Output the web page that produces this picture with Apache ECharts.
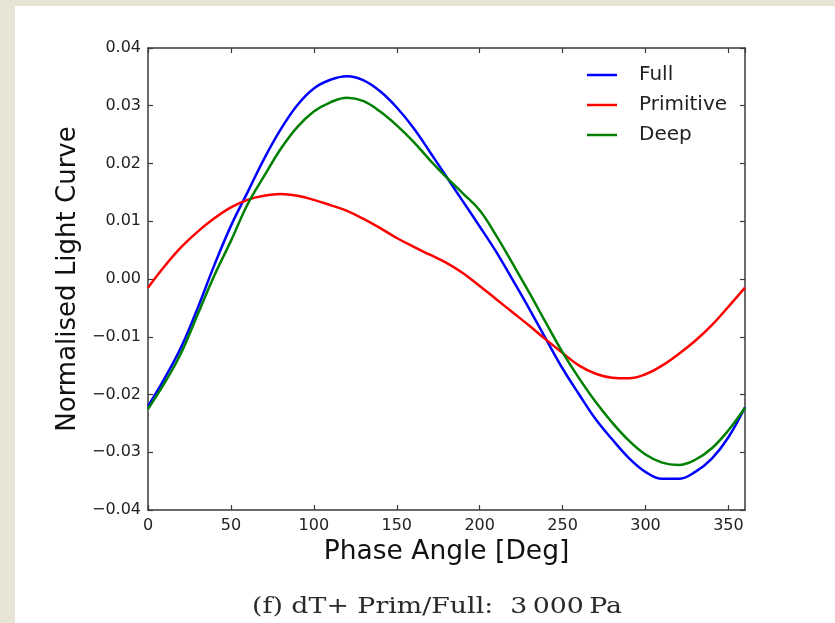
<!DOCTYPE html>
<html><head><meta charset="utf-8">
<script src="https://cdn.jsdelivr.net/npm/echarts@6/dist/echarts.min.js"></script>
<style>
html,body{margin:0;padding:0;background:#e8e5d6;overflow:hidden;}
#panel{position:absolute;left:15px;top:6px;width:820px;height:617px;background:#fff;}
#chart{position:absolute;left:0;top:0;width:835px;height:623px;}
</style></head><body><div id="panel"></div><div id="chart"></div>
<script>
// Phase angle in degrees
const phase = [0,10,20,30,40,50,60,70,80,90,100,110,120,130,140,150,160,170,180,
  190,200,210,220,230,240,250,260,270,280,290,300,310,320,330,340,350,360];
const full = [-0.0220,-0.0172,-0.0118,-0.0050,0.0024,0.0092,0.0150,0.0208,0.0259,0.0301,
  0.0330,0.0345,0.0351,0.0344,0.0325,0.0297,0.0262,0.0220,0.0177,
  0.0134,0.0091,0.0047,-0.0002,-0.0052,-0.0104,-0.0155,-0.0200,-0.0243,-0.0278,
  -0.0310,-0.0334,-0.0346,-0.0346,-0.0334,-0.0311,-0.0274,-0.0222];
const primitive = [-0.0015,0.0022,0.0055,0.0082,0.0105,0.0124,0.0137,0.0144,0.0147,0.0144,
  0.0137,0.0128,0.0118,0.0104,0.0088,0.0071,0.0056,0.0042,0.0028,
  0.0010,-0.0012,-0.0035,-0.0058,-0.0081,-0.0105,-0.0128,-0.0150,-0.0164,-0.0171,
  -0.0172,-0.0165,-0.0150,-0.0130,-0.0107,-0.0080,-0.0048,-0.0015];
const deep = [-0.0225,-0.0180,-0.0128,-0.0061,0.0006,0.0066,0.0129,0.0178,0.0225,0.0263,
  0.0290,0.0306,0.0314,0.0308,0.0290,0.0266,0.0238,0.0206,0.0176,
  0.0148,0.0119,0.0075,0.0026,-0.0024,-0.0076,-0.0127,-0.0172,-0.0213,-0.0249,
  -0.0280,-0.0304,-0.0318,-0.0322,-0.0313,-0.0293,-0.0262,-0.0223];
const seriesNames = ['Full','Primitive','Deep'];
const seriesColors = ['#0000ff','#ff0000','#008000'];
const xRange = [0, 360, 50];
const yRange = [-0.04, 0.04, 0.01];
const xTitle = 'Phase Angle [Deg]';
const yTitle = 'Normalised Light Curve';
const caption = '(f) dT+ Prim/Full:  3\u2009000\u2009Pa';

const chart = echarts.init(document.getElementById('chart'), null, {renderer:'canvas'});
const axisColor = '#3a3a3a';
const tickFont = {fontFamily:'DejaVu Sans', fontSize:16, color:'#222'};
function mk(data){ return phase.map((p,i)=>[p,data[i]]); }
const baseX = {type:'value', min:xRange[0], max:xRange[1], interval:xRange[2],
  axisLine:{show:true,onZero:false,lineStyle:{color:axisColor,width:1.5}},
  axisTick:{show:true,inside:true,length:5,lineStyle:{color:axisColor,width:1.2}},
  splitLine:{show:false}};
const baseY = {type:'value', min:yRange[0], max:yRange[1], interval:yRange[2],
  axisLine:{show:true,onZero:false,lineStyle:{color:axisColor,width:1.5}},
  axisTick:{show:true,inside:true,length:5,lineStyle:{color:axisColor,width:1.2}},
  splitLine:{show:false}};

// caption width fit (reference caption spans ~370px)
const capFont = '22px "DejaVu Serif"';
const cv = document.createElement('canvas').getContext('2d');
cv.font = capFont;
const capW = cv.measureText(caption).width || 300;
const capScale = Math.min(1.4, Math.max(0.8, 370 / capW));

const option = {
  backgroundColor:'transparent',
  animation:false,
  grid:{left:148, top:48, right:90, bottom:113, containLabel:false},
  legend:{data:seriesNames, orient:'vertical', left:582, top:60,
    icon:'path://M0,0H30V2.5H0Z',
    itemWidth:30, itemHeight:2.5, itemGap:10,
    textStyle:{fontFamily:'DejaVu Sans', fontSize:20, color:'#222', lineHeight:20, padding:[0,0,0,17]}},
  xAxis:[
    Object.assign({}, baseX, {position:'bottom', name:xTitle, nameLocation:'middle', nameGap:27,
      nameTextStyle:{fontFamily:'DejaVu Sans', fontSize:26.5, color:'#111'},
      axisLabel:Object.assign({margin:8, showMaxLabel:false}, tickFont)}),
    Object.assign({}, baseX, {position:'top', axisLabel:{show:false}})
  ],
  yAxis:[
    Object.assign({}, baseY, {position:'left', name:yTitle, nameLocation:'middle', nameGap:64,
      nameTextStyle:{fontFamily:'DejaVu Sans', fontSize:26, color:'#111'},
      axisLabel:Object.assign({margin:7, formatter:v=>v.toFixed(2).replace('-','\u2212')}, tickFont)}),
    Object.assign({}, baseY, {position:'right', axisLabel:{show:false}})
  ],
  series:[
    {name:seriesNames[0], type:'line', data:mk(full), smooth:0.4, symbol:'none', lineStyle:{width:2.5,color:seriesColors[0]}, itemStyle:{color:seriesColors[0]}},
    {name:seriesNames[1], type:'line', data:mk(primitive), smooth:0.4, symbol:'none', lineStyle:{width:2.5,color:seriesColors[1]}, itemStyle:{color:seriesColors[1]}},
    {name:seriesNames[2], type:'line', data:mk(deep), smooth:0.4, symbol:'none', lineStyle:{width:2.5,color:seriesColors[2]}, itemStyle:{color:seriesColors[2]}}
  ],
  graphic:[{type:'text', x:437, y:607, scaleX:capScale, scaleY:1,
    style:{text:caption, font:capFont, fill:'#2a2a2a', textAlign:'center', textVerticalAlign:'middle'}}]
};
chart.setOption(option);
</script></body></html>
